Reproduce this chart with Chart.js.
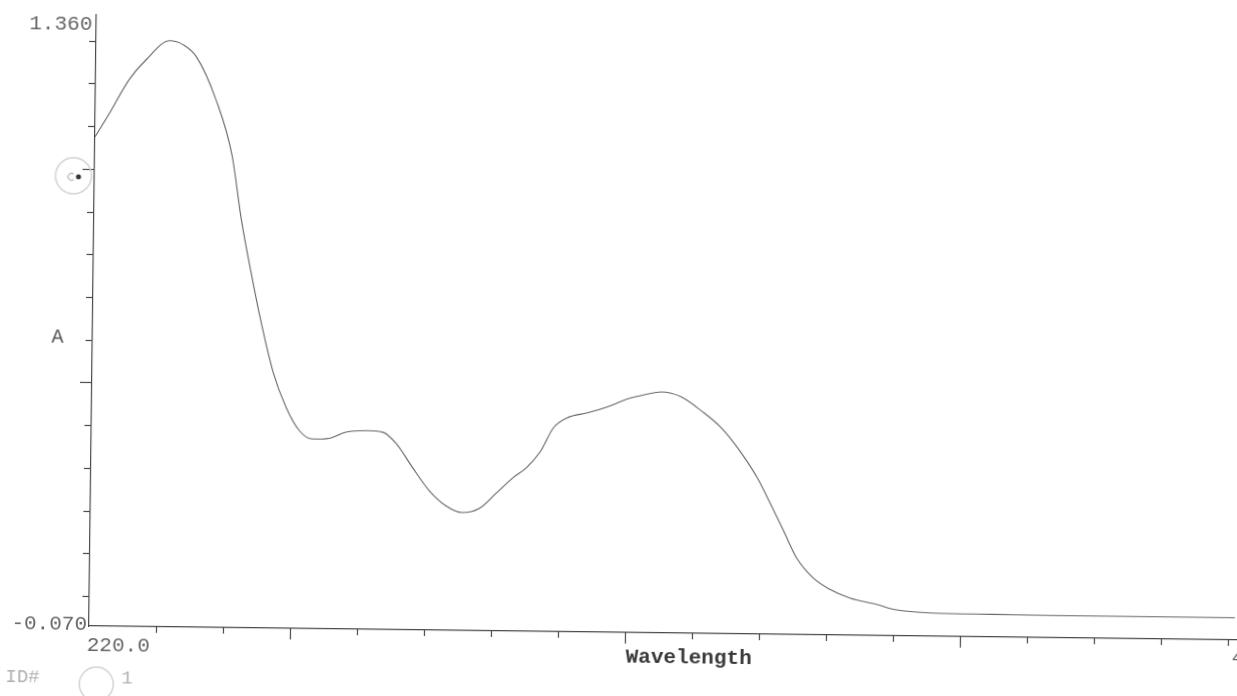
<!DOCTYPE html>
<html>
<head>
<meta charset="utf-8">
<script src="https://cdn.jsdelivr.net/npm/chart.js@4.4.1/dist/chart.umd.min.js"></script>
<style>
  html, body { margin: 0; padding: 0; background: #fff; overflow: hidden; }
  #wrap { position: relative; width: 1310px; height: 696px; transform: rotate(0.7deg); transform-origin: 89px 626px; }
</style>
</head>
<body>
<div id="wrap"><canvas id="spec" width="1310" height="696"></canvas></div>
<script>
// espectro UV — absorbancia x comprimento de onda (nm)
var wavelength = [220, 222, 225, 227.5, 231, 233, 235, 238, 240.5, 242, 243.5, 245, 247, 249, 251, 253,
                  255.5, 258, 261, 263.5, 265.5, 268, 270.5, 273, 275.5, 278, 280.5, 283, 285, 287, 289,
                  291, 294, 297, 300, 302.5, 305, 308, 311, 314, 316.5, 319.5, 321.5, 323.5, 325.5, 328,
                  330.5, 333.5, 337.5, 340, 345, 355, 365, 380, 391];
var absorbance = [1.075, 1.127, 1.210, 1.257, 1.302, 1.293, 1.265, 1.165, 1.035, 0.885, 0.765, 0.655, 0.530, 0.448, 0.394, 0.374,
                  0.376, 0.391, 0.395, 0.392, 0.366, 0.310, 0.257, 0.222, 0.206, 0.216, 0.252, 0.289, 0.313, 0.350, 0.408,
                  0.431, 0.443, 0.458, 0.477, 0.487, 0.494, 0.483, 0.451, 0.412, 0.365, 0.295, 0.235, 0.172, 0.109, 0.063,
                  0.037, 0.017, 0.003, -0.008, -0.015, -0.017, -0.018, -0.018, -0.018];

var xMin = 220, xMax = 400;
var yMin = -0.07, yMax = 1.36;
var xTicks = [230, 240, 250, 260, 270, 280, 290, 300, 310, 320, 330, 340, 350, 360, 370, 380, 390];
var xMajor = [250, 300, 350];
var yTicks = [0.0, 0.1, 0.2, 0.3, 0.4, 0.5, 0.6, 0.7, 0.8, 0.9, 1.0, 1.1, 1.2, 1.3];
var yMajor = [0.5, 1.0];
var yEndLabels = ["1.360", "-0.070"];
var xEndLabels = ["220.0", "400.0"];
var xTitle = "Wavelength";
var yTitle = "A";

var MONO = "'Liberation Mono', 'DejaVu Sans Mono', monospace";

// eixos impressos: marcas, rotulos e anotacoes
var printPlugin = {
  id: "printAxes",
  afterDraw: function(chart) {
    var ctx = chart.ctx;
    var xs = chart.scales.x, ys = chart.scales.y;
    var left = xs.getPixelForValue(xMin);
    var right = xs.getPixelForValue(xMax);
    var bottom = ys.getPixelForValue(yMin);
    var top = ys.getPixelForValue(yMax);
    ctx.save();
    ctx.strokeStyle = "#4a4a4a";
    ctx.lineWidth = 1.2;

    yTicks.forEach(function(v) {
      var py = Math.round(ys.getPixelForValue(v)) + 0.5;
      var len = yMajor.indexOf(v) >= 0 ? 12 : 7;
      ctx.beginPath(); ctx.moveTo(left - len, py); ctx.lineTo(left, py); ctx.stroke();
    });
    xTicks.forEach(function(v) {
      var px = Math.round(xs.getPixelForValue(v)) + 0.5;
      var len = xMajor.indexOf(v) >= 0 ? 11 : 6;
      ctx.beginPath(); ctx.moveTo(px, bottom); ctx.lineTo(px, bottom + len); ctx.stroke();
    });

    ctx.font = "21px " + MONO;
    ctx.fillStyle = "#666";
    ctx.textBaseline = "middle";
    ctx.textAlign = "right";
    ctx.fillText(yEndLabels[0], left - 4, top + 9);
    ctx.fillText(yEndLabels[1], left - 2, bottom - 2);
    ctx.textAlign = "left";
    ctx.fillText(xEndLabels[0], left - 2, bottom + 19);
    ctx.textAlign = "right";
    ctx.fillText(xEndLabels[1], right, bottom + 17);

    ctx.fillStyle = "#555";
    ctx.textAlign = "center";
    ctx.font = "20px " + MONO;
    ctx.fillText(yTitle, left - 35, (top + bottom) / 2 + 17);

    ctx.fillStyle = "#3a3a3a";
    ctx.textAlign = "left";
    ctx.font = "bold 21px " + MONO;
    var mid = xs.getPixelForValue(300);
    ctx.fillText(xTitle, mid + 1, bottom + 25);

    // rodape e marcas a caneta
    ctx.fillStyle = "#b0b0b0";
    ctx.font = "19px " + MONO;
    ctx.fillText("ID#", 6, bottom + 52);
    ctx.fillText("1", 122, bottom + 52);
    ctx.strokeStyle = "#d2d2d2";
    ctx.lineWidth = 1.5;
    ctx.beginPath(); ctx.arc(97, bottom + 58, 17, 0, Math.PI * 2); ctx.stroke();
    ctx.beginPath(); ctx.arc(68, 176, 18, 0, Math.PI * 2); ctx.stroke();
    ctx.fillStyle = "#333";
    ctx.beginPath(); ctx.arc(73, 177, 2.5, 0, Math.PI * 2); ctx.fill();
    ctx.strokeStyle = "#999"; ctx.lineWidth = 1;
    ctx.beginPath(); ctx.arc(66, 177, 3.5, Math.PI * 0.3, Math.PI * 1.7); ctx.stroke();
    ctx.restore();
  }
};

var points = wavelength.map(function(w, i) { return { x: w, y: absorbance[i] }; });

new Chart(document.getElementById("spec"), {
  type: "line",
  data: {
    datasets: [{
      data: points,
      borderColor: "#666666",
      borderWidth: 1.1,
      pointRadius: 0,
      fill: false,
      tension: 0.4,
      cubicInterpolationMode: "monotone"
    }]
  },
  options: {
    responsive: false,
    animation: false,
    devicePixelRatio: 1,
    layout: { padding: { left: 89, top: 15, right: 15, bottom: 70 } },
    plugins: { legend: { display: false }, tooltip: { enabled: false } },
    scales: {
      x: {
        type: "linear", min: xMin, max: xMax,
        grid: { display: false, drawTicks: false },
        border: { display: true, color: "#4a4a4a", width: 1.2 },
        ticks: { display: false }
      },
      y: {
        type: "linear", min: yMin, max: yMax,
        grid: { display: false, drawTicks: false },
        border: { display: true, color: "#4a4a4a", width: 1.2 },
        ticks: { display: false }
      }
    }
  },
  plugins: [printPlugin]
});
</script>
</body>
</html>
